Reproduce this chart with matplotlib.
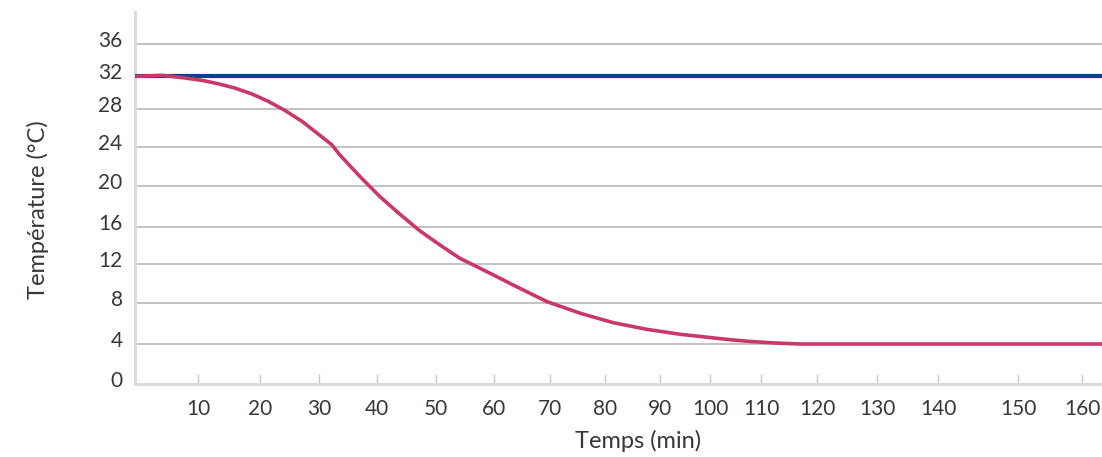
import numpy as np
import matplotlib
matplotlib.use("Agg")
import matplotlib.pyplot as plt
from matplotlib.transforms import ScaledTranslation

# ---- data ----
time_min = [0, 4.3, 7.9, 10.6, 13.2, 15.9, 18.7, 21.4, 24.2, 27.1, 29.8, 32.2, 33.6,
            37.1, 40.5, 43.9, 47.3, 50.7, 54.1, 57.6, 61.1, 63.4, 69.5, 75.5, 81.5,
            87.6, 94.0, 103.9, 107.8, 112.5, 117, 125, 140, 160, 164]
temp_product = [31.96, 32.08, 31.76, 31.48, 31.07, 30.55, 29.82, 28.93, 27.86, 26.71,
                25.4, 24.24, 23.18, 20.95, 18.96, 17.24, 15.57, 14.05, 12.62, 11.56,
                10.53, 9.85, 8.13, 7.0, 6.08, 5.43, 4.95, 4.42, 4.25, 4.1, 4.0, 4.0,
                4.0, 4.0, 4.0]
setpoint_time = [0, 164]
setpoint_temp = [32, 32]

x_ticks = [10, 20, 30, 40, 50, 60, 70, 80, 90, 100, 110, 120, 130, 140, 150, 160]
y_ticks = [0, 4, 8, 12, 16, 20, 24, 28, 32, 36]
x_label = "Temps (min)"
y_label = "Température (°C)"

# ---- layout: non-uniform axis spacing of the original graphic ----
x_knots = [-10, 0, 10, 20, 30, 40, 50, 60, 70, 80, 90, 100, 110, 120, 130, 140, 150, 160, 170]
x_knot_px = [72, 135, 198, 260, 319, 377, 436, 494, 550, 605, 660, 710, 761, 817, 877, 938, 1018, 1082, 1146]
y_knots = [-4, 0, 4, 8, 12, 16, 20, 24, 28, 32, 36, 40, 44]
y_knot_px = [424, 384, 344, 303, 264, 227, 186, 147, 109, 76, 44, 12, -20]
y_knot_h = [384 - p for p in y_knot_px]


def fx(v):
    return np.interp(v, x_knots, x_knot_px)


def fx_inv(p):
    return np.interp(p, x_knot_px, x_knots)


def fy(v):
    return np.interp(v, y_knots, y_knot_h)


def fy_inv(p):
    return np.interp(p, y_knot_h, y_knots)


W, H = 1102, 457
fig = plt.figure(figsize=(W / 100, H / 100), dpi=100)
ax = fig.add_axes([135 / W, (H - 384) / H, (W - 135) / W, (384 - 12) / H])

ax.set_xscale("function", functions=(fx, fx_inv))
ax.set_yscale("function", functions=(fy, fy_inv))
ax.set_xlim(0, 160 + (W - 1082) / 6.4)
ax.set_ylim(0, 40)

text_color = "#3b3636"
font = "Lato"
weight = "normal"

ax.set_yticks(y_ticks)
ax.set_xticks(x_ticks)
ax.yaxis.grid(True, color="#bdbdbd", linewidth=1.3)
ax.set_axisbelow(True)

ax.plot(setpoint_time, setpoint_temp, color="#0a3f93", linewidth=3.0, solid_capstyle="butt", zorder=3)
ax.plot(time_min, temp_product, color="#c9386b", linewidth=2.6, solid_capstyle="round",
        solid_joinstyle="round", zorder=4)

for s in ["top", "right"]:
    ax.spines[s].set_visible(False)
for s in ["left", "bottom"]:
    ax.spines[s].set_color("#dcdcdc")
    ax.spines[s].set_linewidth(2.2)

ax.tick_params(axis="x", direction="in", length=7.5, width=1.0, color="#c8c8c8",
               pad=11, labelsize=15, labelcolor=text_color)
ax.tick_params(axis="y", length=0, pad=9, labelsize=15, labelcolor=text_color)
for lab in ax.get_xticklabels() + ax.get_yticklabels():
    lab.set_fontfamily(font)
    lab.set_fontweight(weight)
for lab in ax.get_yticklabels():
    lab.set_transform(lab.get_transform() + ScaledTranslation(0, 5 / 100, fig.dpi_scale_trans))

ax.set_xlabel(x_label, fontsize=17, color=text_color, fontfamily=font, fontweight=weight)
ax.set_ylabel(y_label, fontsize=17, color=text_color, fontfamily=font, fontweight=weight)
ax.xaxis.label.set_verticalalignment("center")
ax.yaxis.label.set_verticalalignment("center")
ax.xaxis.set_label_coords((638 - 135) / (W - 135), -(441 - 384) / (384 - 12))
ax.yaxis.set_label_coords(-(135 - 38) / (W - 135), (384 - 210) / (384 - 12))

fig.savefig("out.png", dpi=100, facecolor="white")
